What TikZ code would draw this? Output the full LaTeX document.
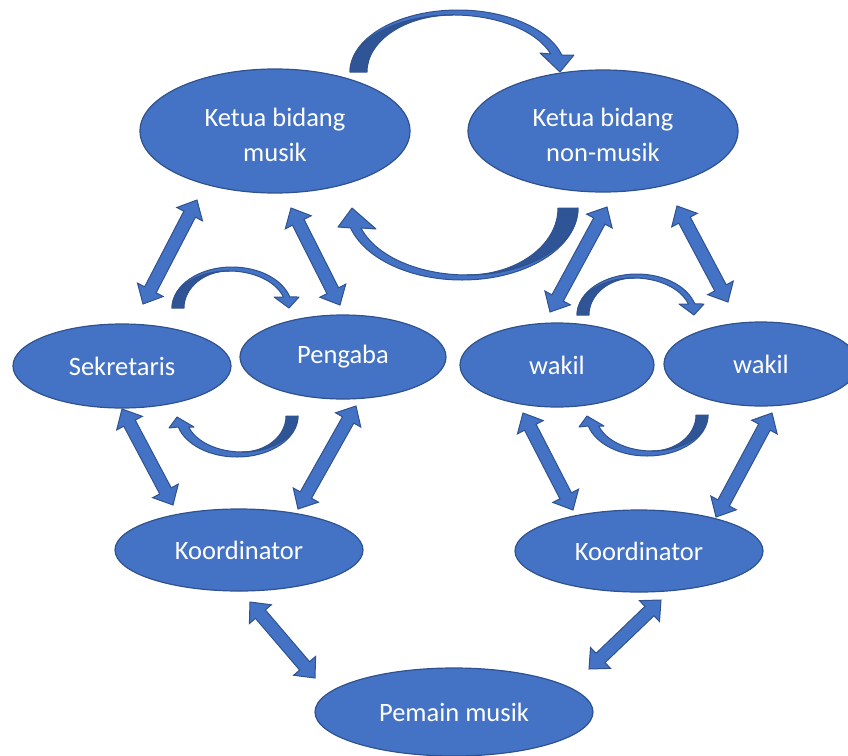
\documentclass[tikz,border=0pt]{standalone}
\usepackage{fontspec}
\setmainfont{Carlito}
\usetikzlibrary{shapes.geometric,calc}
\definecolor{boxfill}{HTML}{4472C4}
\definecolor{boxline}{HTML}{2F528F}
\definecolor{boxshade}{HTML}{2F5597}
\newcommand\arrHL{16pt}
\newcommand\arrHW{14.5pt}
\newcommand\arrSW{6.5pt}
\newcommand\dblarrow[2]{%
  \coordinate (da1) at ($(#1)!\arrHL!(#2)$);
  \coordinate (da2) at ($(#2)!\arrHL!(#1)$);
  \draw[blockarrow] (#1) -- ($(da1)!\arrHW!90:(#2)$) -- ($(da1)!\arrSW!90:(#2)$)
    -- ($(da2)!\arrSW!-90:(#1)$) -- ($(da2)!\arrHW!-90:(#1)$) -- (#2)
    -- ($(da2)!\arrHW!90:(#1)$) -- ($(da2)!\arrSW!90:(#1)$)
    -- ($(da1)!\arrSW!-90:(#2)$) -- ($(da1)!\arrHW!-90:(#2)$) -- cycle;
}
\begin{document}
\begin{tikzpicture}[x=1pt,y=-1pt,
  ellnode/.style={ellipse, draw=boxline, fill=boxfill, line width=1.2pt, text=white,
    inner sep=0pt, align=center, font=\fontsize{26.5}{35}\selectfont},
  twoline/.style={text height=60.5pt},
  blockarrow/.style={draw=boxline, fill=boxfill, line width=1pt, line join=miter},
  curvebody/.style={draw=boxline, fill=boxfill, line width=1pt, line join=round},
  curveshade/.style={draw=boxline, fill=boxshade, line width=1pt, line join=round}]
\clip (0,0) rectangle (848,755);

% nodes
\node[ellnode, twoline, minimum width=270pt, minimum height=124pt] (km) at (275,131) {Ketua bidang\\musik};
\node[ellnode, twoline, minimum width=270pt, minimum height=122pt] (knm) at (603,131) {Ketua bidang\\non-musik};
\node[ellnode, minimum width=218pt, minimum height=84pt] (sek) at (122,366) {Sekretaris};
\node[ellnode, minimum width=206pt, minimum height=84pt] (pen) at (343,357) {Pengaba};
\node[ellnode, minimum width=194pt, minimum height=84pt] (wk1) at (557,365) {wakil};
\node[ellnode, minimum width=194pt, minimum height=84pt] (wk2) at (761,364) {wakil};
\node[ellnode, minimum width=248pt, minimum height=82pt] (ko1) at (239,550) {Koordinator};
\node[ellnode, minimum width=248pt, minimum height=82pt] (ko2) at (639,551) {Koordinator};
\node[ellnode, minimum width=278pt, minimum height=88pt] (pm) at (454,712) {Pemain musik};

% end points of the block arrows
\coordinate (a1s) at (143,304); \coordinate (a1e) at (197,200);
\coordinate (a2s) at (340,305); \coordinate (a2e) at (291,208);
\coordinate (a3s) at (122,409); \coordinate (a3e) at (173,505);
\coordinate (a4s) at (356,406); \coordinate (a4e) at (298,509);
\coordinate (a5s) at (550,312); \coordinate (a5e) at (607,207);
\coordinate (a6s) at (728,302); \coordinate (a6e) at (677,206);
\coordinate (a7s) at (523,413); \coordinate (a7e) at (573,510);
\coordinate (a8s) at (772,413); \coordinate (a8e) at (716,517);
\coordinate (a9s) at (250,602); \coordinate (a9e) at (315,678);
\coordinate (a10s) at (661,600); \coordinate (a10e) at (589,669);

\dblarrow{a1s}{a1e}
\dblarrow{a2s}{a2e}
\dblarrow{a3s}{a3e}
\dblarrow{a4s}{a4e}
\dblarrow{a5s}{a5e}
\dblarrow{a6s}{a6e}
\dblarrow{a7s}{a7e}
\dblarrow{a8s}{a8e}
\dblarrow{a9s}{a9e}
\dblarrow{a10s}{a10e}

% big curved arrow over the top
\draw[curvebody] (350,72) arc[start angle=180,end angle=344.1,x radius=108,y radius=62]
  -- (574,55) -- (560,72) -- (540,53) -- (550.7,54)
  arc[start angle=341.6,end angle=180,x radius=103,y radius=57] -- cycle;
\draw[curveshade] (350,72) arc[start angle=180,end angle=270,x radius=103,y radius=57]
  arc[start angle=270,end angle=180,x radius=86,y radius=57] -- cycle;

% big curved arrow underneath
\draw[curvebody] (578,208) arc[start angle=0,end angle=163.9,x radius=116,y radius=72]
  -- (338,227) -- (352,208) -- (376,229) -- (361,228)
  arc[start angle=162.6,end angle=0,x radius=111,y radius=67] -- cycle;
\draw[curveshade] (578,208) arc[start angle=0,end angle=90,x radius=111,y radius=67]
  arc[start angle=90,end angle=0,x radius=91,y radius=67] -- cycle;

% small curved arrows, left pair and right pair
\foreach \dx/\dy/\ex/\ey in {0/0/0/0, 405/7/410/-1}{
  \begin{scope}[shift={(\dx,\dy)}]
    \draw[curvebody] (172,308) arc[start angle=180,end angle=344.4,x radius=60,y radius=41]
      -- (299,297) -- (289,308) -- (274,297) -- (283.4,297)
      arc[start angle=342.7,end angle=180,x radius=57,y radius=37] -- cycle;
    \draw[curveshade] (172,308) arc[start angle=180,end angle=270,x radius=57,y radius=37]
      arc[start angle=270,end angle=180,x radius=45,y radius=37] -- cycle;
  \end{scope}
  \begin{scope}[shift={(\ex,\ey)}]
    \draw[curvebody] (298,416) arc[start angle=0,end angle=164.4,x radius=61,y radius=41]
      -- (169,428) -- (177,417) -- (194,427) -- (188.7,427)
      arc[start angle=162.2,end angle=0,x radius=56,y radius=36] -- cycle;
    \draw[curveshade] (298,416) arc[start angle=0,end angle=90,x radius=56,y radius=36]
      arc[start angle=90,end angle=0,x radius=44,y radius=36] -- cycle;
  \end{scope}
}
\end{tikzpicture}
\end{document}
